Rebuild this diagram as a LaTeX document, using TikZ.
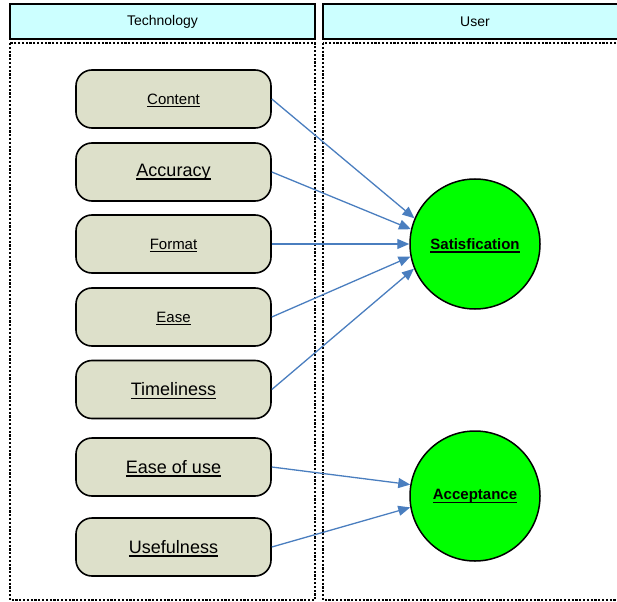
\documentclass[tikz,border=0pt]{standalone}
\usepackage{fontspec}
\setmainfont{Liberation Sans}
\usetikzlibrary{arrows.meta}

\definecolor{headcyan}{HTML}{CCFFFF}
\definecolor{boxfill}{HTML}{DDE0CA}
\definecolor{ballgreen}{HTML}{00FF00}
\definecolor{linkblue}{HTML}{4A7EBF}

% underlined label with a firmer rule that adds no depth
\newcommand{\uline}[1]{\leavevmode\setbox0=\hbox{#1}%
  \copy0\llap{\smash{\raisebox{-3.2pt}{\rule{\wd0}{1.3pt}}}}}

\tikzset{
  lane/.style={draw, line width=1.6pt, fill=headcyan, minimum height=35pt,
    inner sep=0pt, font=\fontsize{14}{16}\selectfont},
  panel/.style={draw, line width=1.3pt, dash pattern=on 2.2pt off 1.6pt},
  factor/.style={draw, line width=1.6pt, fill=boxfill, rounded corners=16pt,
    minimum width=195pt, minimum height=58pt, inner sep=0pt},
  minor/.style={font=\fontsize{15}{18}\selectfont},
  major/.style={font=\fontsize{18}{21}\selectfont},
  outcome/.style={circle, draw, line width=1.5pt, fill=ballgreen,
    minimum size=130pt, inner sep=0pt, font=\bfseries\fontsize{15}{18}\selectfont},
  link/.style={draw=linkblue, line width=1.3pt,
    -{Triangle[length=12pt, width=10pt]}}
}

\begin{document}
\begin{tikzpicture}[x=1pt, y=-1pt]
  \clip (0,0) rectangle (617,601);

  % column headers
  \node[lane, minimum width=305pt] (techhead) at (162.5,21.5) {Technology};
  \node[lane, minimum width=300pt] (userhead) at (473,21.5) {\hspace*{4pt}User};

  % column panels
  \draw[panel] (10,43) rectangle (315,600);
  \draw[panel] (323,43) rectangle (625,600);

  % technology factors
  \node[factor, minor] (content)    at (173.5,99)  {\uline{Content}};
  \node[factor, major] (accuracy)   at (173.5,172) {\uline{Accuracy}};
  \node[factor, minor] (format)     at (173.5,244) {\uline{Format}};
  \node[factor, minor] (ease)       at (173.5,317) {\uline{Ease}};
  \node[factor, major] (timeliness) at (173.5,389.5) {\uline{Timeliness}};
  \node[factor, major] (easeofuse)  at (173.5,467) {\uline{Ease of use}};
  \node[factor, major] (usefulness) at (173.5,547) {\uline{Usefulness}};

  % user outcomes
  \node[outcome] (satisfication) at (475,244) {\uline{Satisfication}};
  \node[outcome] (acceptance)    at (475,496) {\uline{Acceptance}};

  % influences
  \draw[link] (content.east)    -- (satisfication.157);
  \draw[link] (accuracy.east)   -- (satisfication.167);
  \draw[link] (format.east)     -- (satisfication.180);
  \draw[link] (ease.east)       -- (satisfication.191);
  \draw[link] (timeliness.east) -- (satisfication.202);
  \draw[link] (easeofuse.east)  -- (acceptance.170);
  \draw[link] (usefulness.east) -- (acceptance.190);
\end{tikzpicture}
\end{document}
